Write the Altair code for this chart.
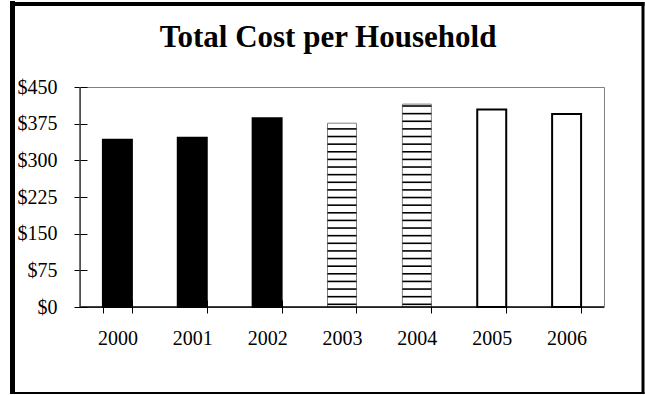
import altair as alt
import pandas as pd

# ---- data ----
years = ["2000", "2001", "2002", "2003", "2004", "2005", "2006"]
costs = [342, 346, 386, 376, 415, 404, 395]
y_ticks = [0, 75, 150, 225, 300, 375, 450]
title_text = "Total Cost per Household"
striped_years = ["2003", "2004"]

df = pd.DataFrame({"year": years, "cost": costs})

# hatch lines (a fill pattern) for the striped bars, in data units
stripe_step = 15.6
stripe_start = 5.5
stripe_rows = []
for yr, c in zip(years, costs):
    if yr in striped_years:
        v = stripe_start
        while v < c - 3:
            stripe_rows.append({"year": yr, "s": v})
            v += stripe_step
stripes_df = pd.DataFrame(stripe_rows)

FONT = "Liberation Serif"
W, H = 524, 220

x_axis = alt.Axis(title=None, labelAngle=0, tickBand="extent", offset=-7, tickSize=13,
                  domain=False, labelPadding=15, labelFont=FONT, labelFontSize=20,
                  labelColor="black", tickColor="black", tickWidth=1, grid=False,
                  labelOverlap=False)
y_axis = alt.Axis(title=None, values=y_ticks, format="$.0f", offset=-7, tickSize=13,
                  domain=False, labelPadding=17, labelFont=FONT, labelFontSize=20,
                  labelColor="black", tickColor="black", tickWidth=1, grid=False,
                  labelOverlap=False, labelFlush=False)

x_scale = alt.Scale(paddingInner=0.613, paddingOuter=0.306)
y_scale = alt.Scale(domain=[0, 450], nice=False)

is_solid = "toNumber(datum.year) <= 2002"
is_striped = "toNumber(datum.year) >= 2003 && toNumber(datum.year) <= 2004"

bars = alt.Chart(df).mark_bar().encode(
    x=alt.X("year:N", sort=years, scale=x_scale, axis=x_axis),
    y=alt.Y("cost:Q", scale=y_scale, axis=y_axis),
    fill=alt.condition(is_solid, alt.value("black"), alt.value("white")),
    stroke=alt.condition(is_striped, alt.value("#808080"), alt.value("black")),
    strokeWidth=alt.condition(is_striped, alt.value(1), alt.value(2)),
)

stripes = alt.Chart(stripes_df).mark_tick(color="black", thickness=1.6, size=29, opacity=1).encode(
    x=alt.X("year:N", sort=years, scale=x_scale, axis=x_axis),
    y=alt.Y("s:Q", scale=y_scale, axis=y_axis),
)

one = alt.Data(values=[{"t": title_text}])

# axis lines (bottom black, left dark gray)
bottom_axis = alt.Chart(one).mark_rule(color="black", strokeWidth=1.5).encode(
    y=alt.value(H), x=alt.value(0), x2=alt.value(W)
)
left_axis = alt.Chart(one).mark_rule(color="#404040", strokeWidth=1.5).encode(
    x=alt.value(0), y=alt.value(0), y2=alt.value(H)
)

# outer chart frame
frame_left = alt.Chart(one).mark_rule(color="black", strokeWidth=5).encode(
    x=alt.value(-67.5), y=alt.value(-86), y2=alt.value(307))
frame_top = alt.Chart(one).mark_rule(color="black", strokeWidth=4).encode(
    y=alt.value(-83), x=alt.value(-70), x2=alt.value(564.5))
frame_right = alt.Chart(one).mark_rule(color="black", strokeWidth=3).encode(
    x=alt.value(563), y=alt.value(-85), y2=alt.value(307))
frame_bottom = alt.Chart(one).mark_rule(color="black", strokeWidth=2).encode(
    y=alt.value(306), x=alt.value(-70), x2=alt.value(564.5))

title = alt.Chart(one).mark_text(font=FONT, fontSize=31, fontWeight="bold", align="center",
                                 baseline="alphabetic", color="black").encode(
    text="t:N", x=alt.value(248), y=alt.value(-40))

chart = alt.layer(
    bars, stripes, bottom_axis, left_axis,
    frame_left, frame_top, frame_right, frame_bottom, title
).properties(
    width=W, height=H,
    autosize=alt.AutoSizeParams(type="none"),
    padding={"left": 80, "top": 87, "right": 41, "bottom": 88},
    background="white",
).configure_view(stroke="#808080", strokeWidth=1)

chart.save("out.html", embed_options={"renderer": "svg", "actions": False})
